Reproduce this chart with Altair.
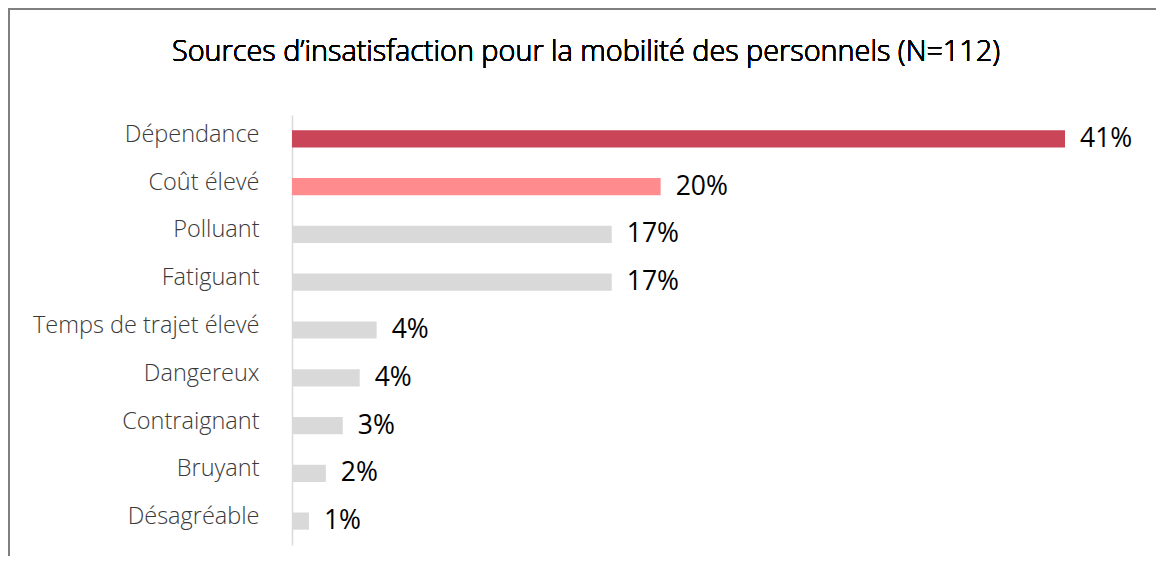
import altair as alt
import pandas as pd

categories = ["Dépendance", "Coût élevé", "Polluant", "Fatiguant",
              "Temps de trajet élevé", "Dangereux", "Contraignant",
              "Bruyant", "Désagréable"]
values = [41.1, 19.6, 17.0, 17.0, 4.5, 3.6, 2.7, 1.8, 0.9]
labels = ["41%", "20%", "17%", "17%", "4%", "4%", "3%", "2%", "1%"]
colors = ["#CB4558", "#FE8B8E", "#D9D9D9", "#D9D9D9", "#D9D9D9",
          "#D9D9D9", "#D9D9D9", "#D9D9D9", "#D9D9D9"]
title_text = "Sources d’insatisfaction pour la mobilité des personnels (N=112)"

df = pd.DataFrame({"cat": categories, "val": values, "lab": labels, "col": colors})

W, H = 773, 430
PL, PT = 284, 107
PR = 1148 - PL - W
PB = 548 - PT - H

y = alt.Y("cat:N", sort=categories,
          scale=alt.Scale(paddingInner=0.64, paddingOuter=0.32),
          axis=alt.Axis(title=None, ticks=False, domainColor="#D9D9D9", domainWidth=1.5,
                        labelFont="Open Sans", labelFontWeight=300, labelFontSize=23.5,
                        labelColor="#3A3A3A", labelLimit=400,
                        labelPadding=33, labelOffset=-4, grid=False))
x = alt.X("val:Q", scale=alt.Scale(domain=[0, 41.1], nice=False), axis=None)

bars = alt.Chart(df).mark_bar().encode(
    x=x, y=y, color=alt.Color("col:N", scale=None)
)
text = alt.Chart(df).mark_text(align="left", baseline="middle", dx=15, dy=0,
                               font="Open Sans", fontSize=26.5, color="#000000").encode(
    x=x, y=y, text="lab:N"
)
frame = alt.Chart(df).mark_rect(fill=None, stroke="#7F7F7F", strokeWidth=2).encode(
    x=alt.value(-283), x2=alt.value(W + 300), y=alt.value(-106), y2=alt.value(H + 300)
)
title = alt.Chart(df).mark_text(align="center", baseline="middle", font="Open Sans",
                                fontSize=28.8, fontWeight=300, color="#000000").encode(
    x=alt.value(294), y=alt.value(-63), text=alt.value(title_text)
)

chart = alt.layer(frame, bars, text, title).properties(
    width=W, height=H,
    background="white",
    autosize=alt.AutoSizeParams(type="none"),
    padding={"left": PL, "top": PT, "right": PR, "bottom": PB},
).configure_view(strokeWidth=0, stroke="transparent")

chart.save("out.html", embed_options={"renderer": "svg", "actions": False})
